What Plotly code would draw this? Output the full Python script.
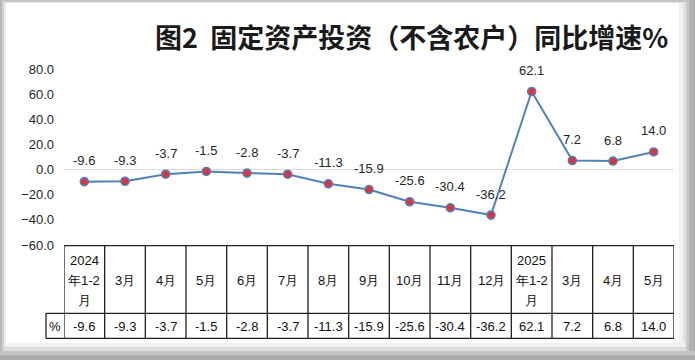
import plotly.graph_objects as go

# ---- data ----
categories = ["2024\n年1-2\n月", "3月", "4月", "5月", "6月", "7月", "8月", "9月",
              "10月", "11月", "12月", "2025\n年1-2\n月", "3月", "4月", "5月"]
growth = [-9.6, -9.3, -3.7, -1.5, -2.8, -3.7, -11.3, -15.9,
          -25.6, -30.4, -36.2, 62.1, 7.2, 6.8, 14.0]
y_ticks = [80, 60, 40, 20, 0, -20, -40, -60]
title_text = "图2\u00a0\u00a0固定资产投资（不含农户）同比增速%"
unit_label = "%"

# ---- geometry (pixels) ----
W, H = 695, 360
ML, MR, MT, MB = 46, 21, 69, 115
PW, PH = W - ML - MR, H - MT - MB


def px_x(px):
    return (px - ML) / PW


def px_y(py):
    return (H - MB - py) / PH


LINE_COL = "#4F81BD"
MARK_COL = "#E0323C"
TXT_COL = "#262626"
FONT = "Liberation Sans"

idx = list(range(len(categories)))

fig = go.Figure()
fig.add_trace(go.Scatter(
    x=idx, y=growth, mode="lines+markers",
    line=dict(color=LINE_COL, width=2),
    marker=dict(size=8, color=MARK_COL, line=dict(color=LINE_COL, width=1.6)),
    hoverinfo="skip", showlegend=False,
))

annotations = []
# data labels
for i, v in zip(idx, growth):
    annotations.append(dict(x=i, y=v, xref="x", yref="y", text=f"{v:.1f}",
                            showarrow=False, yshift=21,
                            font=dict(family=FONT, size=13, color=TXT_COL)))

# title
annotations.append(dict(x=px_x(153), y=px_y(37), xref="paper", yref="paper",
                        xanchor="left", yanchor="middle", text=f"<b>{title_text}</b>",
                        showarrow=False,
                        font=dict(family="Noto Sans CJK SC", size=27, color="#1a1a1a")))

# table text
hdr_top, hdr_bot, val_bot = 245.7, 313.3, 338.3
for i, lab in enumerate(categories):
    lines = lab.split("\n")
    if len(lines) == 1:
        ys = [280]
    else:
        ys = [260, 280, 300]
    for ln, yy in zip(lines, ys):
        annotations.append(dict(x=i, y=px_y(yy), xref="x", yref="paper", text=ln,
                                showarrow=False, yanchor="middle",
                                font=dict(family=FONT, size=13, color="#111111")))
    annotations.append(dict(x=i, y=px_y(326), xref="x", yref="paper", text=f"{growth[i]:.1f}",
                            showarrow=False, yanchor="middle",
                            font=dict(family=FONT, size=13, color="#111111")))
annotations.append(dict(x=px_x(55), y=px_y(326), xref="paper", yref="paper", text=unit_label,
                        showarrow=False, xanchor="center", yanchor="middle",
                        font=dict(family=FONT, size=13, color="#111111")))

shapes = []
bc = dict(color="#202020", width=1.3)
# horizontal table lines
shapes.append(dict(type="line", xref="x", yref="paper", x0=-0.5, x1=len(idx) - 0.5,
                   y0=px_y(hdr_top), y1=px_y(hdr_top), line=bc))
for yy in (hdr_bot, val_bot):
    shapes.append(dict(type="line", xref="paper", yref="paper", x0=px_x(46), x1=1,
                       y0=px_y(yy), y1=px_y(yy), line=bc))
# vertical table lines
for k in range(len(idx) + 1):
    shapes.append(dict(type="line", xref="x", yref="paper", x0=k - 0.5, x1=k - 0.5,
                       y0=px_y(hdr_top), y1=px_y(val_bot), line=bc))
shapes.append(dict(type="line", xref="paper", yref="paper", x0=px_x(46), x1=px_x(46),
                   y0=px_y(hdr_bot), y1=px_y(val_bot), line=bc))

# frame
def rect(x0, y0, x1, y1, col):
    shapes.append(dict(type="rect", xref="paper", yref="paper",
                       x0=px_x(x0), x1=px_x(x1), y0=px_y(y1), y1=px_y(y0),
                       fillcolor=col, line=dict(width=0), layer="above"))

rect(0, 0, W, 2, "#C4C4C4")
rect(0, 2, W, 3, "#E2E2E2")
rect(0, 0, 2, H, "#B8B8B8")
rect(2, 0, 4, H, "#D0D0D0")
rect(4, 3, 6, H, "#EBEBEB")
rect(679, 3, 683, 350, "#F0F0F0")
rect(683, 3, 686, 350, "#E0E0E0")
rect(686, 0, 689, H, "#C8C8C8")
rect(689, 0, W, H, "#B0B0B0")
rect(4, 343, 686, 347, "#F0F0F0")
rect(4, 347, 686, 351, "#DCDCDC")
rect(0, 351, W, 355, "#C4C4C4")
rect(0, 355, W, H, "#ABABAB")

fig.update_layout(
    width=W, height=H,
    margin=dict(l=ML, r=MR, t=MT, b=MB, pad=0),
    paper_bgcolor="white", plot_bgcolor="white",
    xaxis=dict(domain=[px_x(64), 1], range=[-0.5, len(idx) - 0.5],
               showticklabels=False, showgrid=False, zeroline=False, showline=False,
               fixedrange=True),
    yaxis=dict(range=[-60, 80], tickvals=y_ticks, tickformat=".1f",
               showgrid=False, zeroline=True, zerolinecolor="#D9D9D9", zerolinewidth=1,
               showline=False, ticks="", ticklabelstandoff=9, fixedrange=True,
               tickfont=dict(family=FONT, size=13, color=TXT_COL)),
    annotations=annotations, shapes=shapes,
)

fig.write_html("out.html", config={"displayModeBar": False, "staticPlot": True},
               post_script="document.body.style.margin='0';document.body.style.overflow='hidden';")
